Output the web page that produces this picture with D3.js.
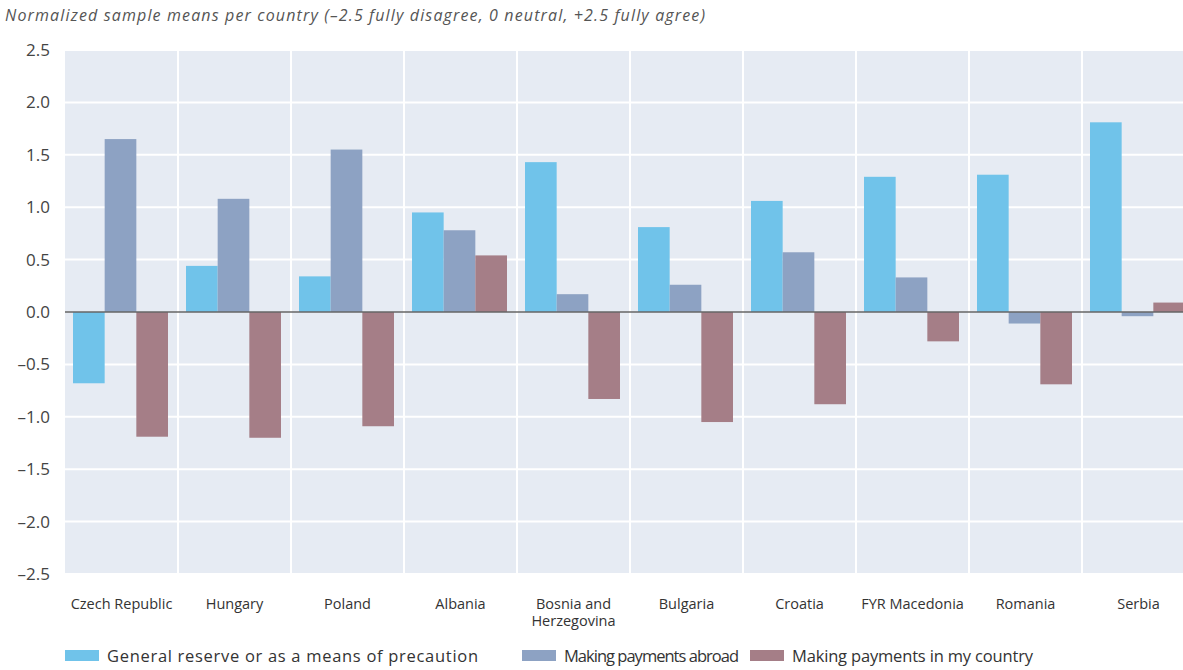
<!DOCTYPE html>
<html>
<head>
<meta charset="utf-8">
<script src="https://cdn.jsdelivr.net/npm/d3@7"></script>
<style>
  body { margin: 0; background: #fff; }
  text { font-family: "Open Sans", Lato, sans-serif; }
</style>
</head>
<body>
<div id="chart"></div>
<script>
var countries = ["Czech Republic", "Hungary", "Poland", "Albania", "Bosnia and Herzegovina",
                 "Bulgaria", "Croatia", "FYR Macedonia", "Romania", "Serbia"]
var reserve  = [-0.68, 0.44, 0.34, 0.95, 1.43, 0.81, 1.06, 1.29, 1.31, 1.81]
var abroad   = [1.65, 1.08, 1.55, 0.78, 0.17, 0.26, 0.57, 0.33, -0.11, -0.04]
var domestic = [-1.19, -1.2, -1.09, 0.54, -0.83, -1.05, -0.88, -0.28, -0.69, 0.09]
var seriesNames = ["General reserve or as a means of precaution", "Making payments abroad", "Making payments in my country"]
var yTicks = [2.5, 2.0, 1.5, 1.0, 0.5, 0.0, -0.5, -1.0, -1.5, -2.0, -2.5]

var colors = ["#70c3ea", "#8da2c3", "#a57e87"]

var svgSize = { width: 1183, height: 670 }
var margin = { top: 50, left: 65 }
var chartSize = { width: 1130, height: 524 }

var svg = d3.select("#chart")
    .append("svg")
    .attr("width", svgSize.width)
    .attr("height", svgSize.height)

svg.append("text")
    .attr("x", 5)
    .attr("y", 21)
    .attr("font-size", 16)
    .attr("font-style", "italic")
    .attr("fill", "#555")
    .attr("textLength", 700)
    .text("Normalized sample means per country (–2.5 fully disagree, 0 neutral, +2.5 fully agree)")

var frame = svg.append("g")
    .attr("transform", `translate(${margin.left}, ${margin.top})`)

var xScale = d3.scaleBand()
    .domain(countries)
    .range([0, chartSize.width])

var inner = d3.scaleBand()
    .domain([0, 1, 2])
    .range([8, xScale.bandwidth() - 10])

var yScale = d3.scaleLinear()
    .domain([-2.5, 2.5])
    .range([chartSize.height, 0])

frame.append("rect")
    .attr("width", chartSize.width)
    .attr("height", chartSize.height)
    .attr("fill", "#e6ebf3")

// horizontal grid
frame.selectAll(".hgrid")
    .data(yTicks.filter(d => d != 0))
    .enter()
    .append("line")
    .attr("x1", 0)
    .attr("x2", chartSize.width)
    .attr("y1", d => yScale(d))
    .attr("y2", d => yScale(d))
    .attr("stroke", "#fff")
    .attr("stroke-width", 2)

// vertical separators
frame.selectAll(".vgrid")
    .data(countries.slice(1))
    .enter()
    .append("line")
    .attr("x1", d => xScale(d))
    .attr("x2", d => xScale(d))
    .attr("y1", 0)
    .attr("y2", chartSize.height)
    .attr("stroke", "#fff")
    .attr("stroke-width", 2)

var seriesData = [reserve, abroad, domestic]

seriesData.forEach((vals, s) => {
    frame.append("g").selectAll("rect")
        .data(vals)
        .enter()
        .append("rect")
        .attr("x", (d, i) => xScale(countries[i]) + inner(s))
        .attr("width", inner.bandwidth())
        .attr("y", d => yScale(Math.max(0, d)))
        .attr("height", d => Math.abs(yScale(d) - yScale(0)))
        .attr("fill", colors[s])
})

frame.append("line")
    .attr("x1", 0)
    .attr("x2", chartSize.width)
    .attr("y1", yScale(0))
    .attr("y2", yScale(0))
    .attr("stroke", "#666")
    .attr("stroke-width", 1.5)

// y axis labels
var leftAxis = d3.axisLeft(yScale)
    .tickValues(yTicks)
    .tickSize(0)
    .tickPadding(15)
    .tickFormat(d => d3.format(".1f")(d).replace("−", "–").replace("-", "–"))

frame.append("g").call(leftAxis)
    .call(g => g.select(".domain").remove())
    .selectAll("text")
    .attr("font-size", 17)
    .attr("fill", "#444")
    .style("font-family", "'Open Sans', sans-serif")

// x labels
var bottomAxis = d3.axisBottom(xScale).tickSize(0).tickPadding(0)
var xg = frame.append("g")
    .attr("transform", `translate(0, ${chartSize.height})`)
    .call(bottomAxis)
xg.select(".domain").remove()
xg.selectAll("text").remove()
xg.selectAll(".tick").each(function(d) {
    var lines = d == "Bosnia and Herzegovina" ? ["Bosnia and", "Herzegovina"] : [d]
    var t = d3.select(this).append("text")
        .attr("text-anchor", "middle")
        .attr("font-size", 14.5)
        .attr("fill", "#333")
        .style("font-family", "'Open Sans', sans-serif")
    lines.forEach((l, k) => {
        t.append("tspan").attr("x", 0).attr("y", 35 + k * 17).text(l)
    })
})

// legend
var legendX = [65, 522, 750]
var legendLen = [371, 175, 241]
var legend = svg.append("g")
seriesNames.forEach((name, s) => {
    legend.append("rect")
        .attr("x", legendX[s])
        .attr("y", 650)
        .attr("width", 34)
        .attr("height", 11)
        .attr("fill", colors[s])
    legend.append("text")
        .attr("x", legendX[s] + 42)
        .attr("y", 662)
        .attr("font-size", 16.5)
        .attr("fill", "#333")
        .attr("textLength", legendLen[s])
        .text(name)
})
</script>
</body>
</html>
